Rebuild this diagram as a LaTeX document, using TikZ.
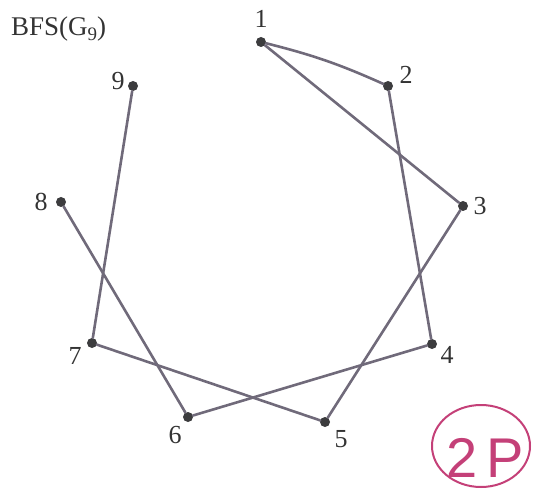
\documentclass[tikz,border=0pt]{standalone}
\usepackage{fontspec}
\setmainfont{Liberation Serif}
\newfontfamily\markfont{Liberation Sans}
\usepackage{tikz}
\usetikzlibrary{positioning}
\definecolor{edgegray}{RGB}{112,106,122}
\definecolor{dotgray}{RGB}{60,60,62}
\definecolor{markpink}{RGB}{196,64,120}

\begin{document}
\begin{tikzpicture}[
  x=1pt, y=1pt,
  vertex/.style={circle, fill=dotgray, inner sep=0pt, minimum size=10pt},
  lbl/.style={font=\fontsize{26}{30}\selectfont, inner sep=0pt, text=black!80},
  edge/.style={draw=edgegray, line width=2.6pt, line cap=round}
]
\useasboundingbox (0,0) rectangle (533,-497);
\node[lbl, anchor=west, font=\fontsize{27}{30}\selectfont] (title) at (11,-29)
  {BFS(G\raisebox{-5pt}{\fontsize{19}{20}\selectfont 9})};
% vertices
\node[vertex] (v1) at (261,-42) {};
\node[vertex] (v2) at (388,-86) {};
\node[vertex] (v3) at (463,-206) {};
\node[vertex] (v4) at (432,-344) {};
\node[vertex] (v5) at (325,-422) {};
\node[vertex] (v6) at (188,-417) {};
\node[vertex] (v7) at (92,-343) {};
\node[vertex] (v8) at (61,-202) {};
\node[vertex] (v9) at (133,-86) {};
% vertex numbers
\node[lbl] (l1) at (261,-19) {1};
\node[lbl] (l2) at (406,-75) {2};
\node[lbl] (l3) at (480,-206) {3};
\node[lbl] (l4) at (447,-355) {4};
\node[lbl] (l5) at (341,-439) {5};
\node[lbl] (l6) at (175,-435) {6};
\node[lbl] (l7) at (75,-356) {7};
\node[lbl] (l8) at (41,-202) {8};
\node[lbl] (l9) at (118,-81) {9};
% edges
\draw[edge] (v1) to[bend left=5] (v2);
\draw[edge] (v1) -- (v3);
\draw[edge] (v2) -- (v4);
\draw[edge] (v3) -- (v5);
\draw[edge] (v4) -- (v6);
\draw[edge] (v5) -- (v7);
\draw[edge] (v6) -- (v8);
\draw[edge] (v7) -- (v9);
% grade mark
\node[font=\markfont\fontsize{56}{60}\selectfont, text=markpink] (mark) at (485,-458) {2\,P};
\draw[markpink, line width=2pt] (481,-446) ellipse [x radius=49, y radius=41];
\end{tikzpicture}
\end{document}
